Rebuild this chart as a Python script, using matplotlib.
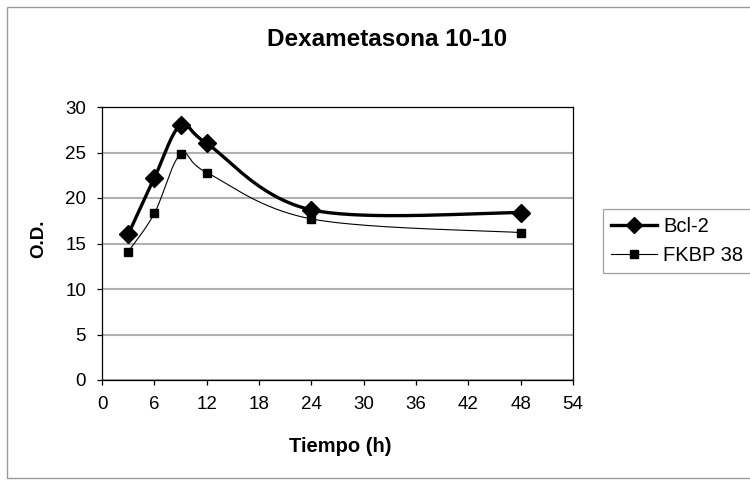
import numpy as np
import matplotlib
matplotlib.use("Agg")
import matplotlib.pyplot as plt
from matplotlib.lines import Line2D
from matplotlib.patches import Rectangle

plt.rcParams['font.family'] = ['Liberation Sans', 'DejaVu Sans']

tiempo = [3, 6, 9, 12, 24, 48]
bcl2 = [16.0, 22.2, 28.0, 26.0, 18.7, 18.4]
fkbp38 = [14.1, 18.3, 24.8, 22.8, 17.7, 16.2]
x_ticks = [0, 6, 12, 18, 24, 30, 36, 42, 48, 54]
y_ticks = [0, 5, 10, 15, 20, 25, 30]


def excel_smooth(x, y, n=40):
    x = np.asarray(x, float); y = np.asarray(y, float)
    xs, ys = [], []
    for i in range(len(x) - 1):
        p0 = np.array([x[max(i - 1, 0)], y[max(i - 1, 0)]])
        p1 = np.array([x[i], y[i]])
        p2 = np.array([x[i + 1], y[i + 1]])
        p3 = np.array([x[min(i + 2, len(x) - 1)], y[min(i + 2, len(x) - 1)]])
        c1 = p1 + (p2 - p0) / 6.0
        c2 = p2 - (p3 - p1) / 6.0
        t = np.linspace(0, 1, n)[:, None]
        pts = ((1 - t) ** 3) * p1 + 3 * ((1 - t) ** 2) * t * c1 + 3 * (1 - t) * t ** 2 * c2 + t ** 3 * p2
        xs.extend(pts[:, 0]); ys.extend(pts[:, 1])
    return np.array(xs), np.array(ys)


fig = plt.figure(figsize=(7.5, 4.8), dpi=100)
fig.patches.append(Rectangle((7 / 750, 2 / 480), 1.0, (471 / 480), transform=fig.transFigure,
                             fill=False, edgecolor='#9a9a9a', linewidth=1.0))
ax = fig.add_axes([102 / 750, 100 / 480, (573 - 102) / 750, (380 - 107) / 480])

sx, sy = excel_smooth(tiempo, bcl2)
ax.plot(sx, sy, color='black', lw=2.4, zorder=3, solid_capstyle='round')
ax.plot(tiempo, bcl2, ls='none', marker='D', ms=9.5, color='black', zorder=4)
sx, sy = excel_smooth(tiempo, fkbp38)
ax.plot(sx, sy, color='black', lw=0.8, zorder=3)
ax.plot(tiempo, fkbp38, ls='none', marker='s', ms=6, color='black', zorder=4)

ax.set_xlim(0, 54)
ax.set_ylim(0, 30)
ax.set_xticks(x_ticks)
ax.set_yticks(y_ticks)
ax.tick_params(axis='both', direction='out', length=3.5, width=0.9, labelsize=13.5,
               colors='black', pad=8)
ax.yaxis.grid(True, color='#b0b0b0', lw=1.5)
ax.set_axisbelow(True)
for s in ax.spines.values():
    s.set_color('black'); s.set_linewidth(0.9)

fig.text(387 / 750, 1 - 40 / 480, 'Dexametasona 10-10', ha='center', va='center',
         fontsize=17.5, fontweight='bold')
fig.text(340 / 750, 1 - 447 / 480, 'Tiempo (h)', ha='center', va='center',
         fontsize=14.5, fontweight='bold')
fig.text(39 / 750, 1 - 239 / 480, 'O.D.', ha='center', va='center', rotation=90,
         fontsize=13.5, fontweight='bold')

handles = [Line2D([], [], color='black', lw=2.4, marker='D', ms=8),
           Line2D([], [], color='black', lw=0.8, marker='s', ms=5.5)]
leg = fig.legend(handles, ['Bcl-2', 'FKBP 38'], loc='upper left',
                 bbox_to_anchor=(603 / 750, 1 - 209 / 480), fontsize=14.5,
                 frameon=True, fancybox=False, edgecolor='#888888', borderpad=0.4,
                 handlelength=2.3, handletextpad=0.3, labelspacing=0.5, borderaxespad=0)
leg.get_frame().set_linewidth(0.9)

fig.savefig('out.png', dpi=100)
